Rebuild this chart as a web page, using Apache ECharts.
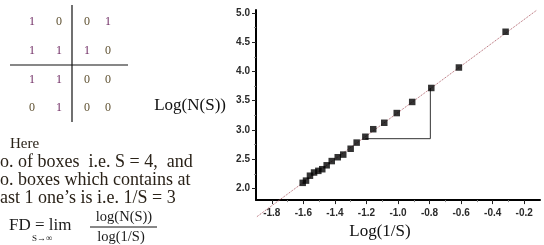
<!DOCTYPE html>
<html>
<head>
<meta charset="utf-8">
<script src="https://cdn.jsdelivr.net/npm/echarts@6/dist/echarts.min.js"></script>
<style>
html,body{margin:0;padding:0;background:#fff;}
#chart{width:544px;height:245px;}
</style>
</head>
<body>
<div id="chart"></div>
<script>
// ---- data ----
const logInvS = [-1.604,-1.583,-1.558,-1.532,-1.505,-1.480,-1.452,-1.420,-1.382,-1.347,-1.300,-1.262,-1.207,-1.157,-1.087,-1.008,-0.910,-0.789,-0.614,-0.318];
const logNS   = [2.095,2.133,2.217,2.272,2.300,2.328,2.395,2.467,2.533,2.578,2.678,2.783,2.883,3.012,3.122,3.288,3.478,3.717,4.067,4.678];
const fitX = [-1.894,-0.119];
const fitY = [1.517,5.05];
const triX = [-1.207,-0.795,-0.795];
const triY = [2.85,2.85,3.717];
const xTicks = [-1.8,-1.6,-1.4,-1.2,-1.0,-0.8,-0.6,-0.4,-0.2];
const xMinorTicks = [-1.7,-1.5,-1.3,-1.1,-0.9,-0.7,-0.5,-0.3];
const yTicks = [2.0,2.5,3.0,3.5,4.0,4.5,5.0];
const yMinorTicks = [2.25,2.75,3.25,3.75,4.25,4.75];
const matrixRows = [[1,0,0,1],[1,1,1,0],[1,1,0,0],[0,1,0,0]];
const noteLines = ['Here','o. of boxes  i.e. S = 4,  and','o. boxes which contains at','ast 1 one\u2019s is i.e. 1/S = 3'];
const formulaLeft = 'FD = lim';
const formulaSub = 'S\u2192\u221e';
const formulaNum = 'log(N(S))';
const formulaDen = 'log(1/S)';
const xName = 'Log(1/S)';
const yName = 'Log(N(S))';

// ---- layout helpers ----
const serif = '"Liberation Serif","DejaVu Serif",serif';
const graphics = [];
const colX = [32,59,87,108];
const rowY = [22,51,80,108];
matrixRows.forEach((row,ri)=>{
  row.forEach((v,ci)=>{
    graphics.push({type:'text',x:colX[ci],y:rowY[ri],style:{text:String(v),font:'12px '+serif,fill:v===1?'#6e2a62':'#5e5030',textAlign:'center',textVerticalAlign:'middle'}});
  });
});
graphics.push({type:'line',shape:{x1:72,y1:5,x2:72,y2:122},style:{stroke:'#111',lineWidth:1.2}});
graphics.push({type:'line',shape:{x1:10,y1:65,x2:128,y2:65},style:{stroke:'#111',lineWidth:1.2}});
const noteX = [10,0,0,0];
const noteY = [144,162,180,198];
noteLines.forEach((t,i)=>{
  graphics.push({type:'text',x:noteX[i],y:noteY[i],style:{text:t,font:(i===0?'15px ':'18px ')+serif,fill:'#2a2218',textAlign:'left',textVerticalAlign:'middle'}});
});
graphics.push({type:'text',x:9,y:226,style:{text:formulaLeft,font:'17px '+serif,fill:'#1a1a1a',textAlign:'left',textVerticalAlign:'middle'}});
graphics.push({type:'text',x:32,y:239,style:{text:formulaSub,font:'9px '+serif,fill:'#1a1a1a',textAlign:'left',textVerticalAlign:'middle'}});
graphics.push({type:'text',x:124,y:217,style:{text:formulaNum,font:'14.5px '+serif,fill:'#1a1a1a',textAlign:'center',textVerticalAlign:'middle'}});
graphics.push({type:'line',shape:{x1:90,y1:227,x2:157,y2:227},style:{stroke:'#111',lineWidth:1}});
graphics.push({type:'text',x:121,y:237,style:{text:formulaDen,font:'14.5px '+serif,fill:'#1a1a1a',textAlign:'center',textVerticalAlign:'middle'}});

const axisLabelStyle = {color:'#2a2a2a',fontFamily:'"Liberation Sans",Arial,sans-serif',fontWeight:'bold',fontSize:10};

const chart = echarts.init(document.getElementById('chart'),null,{renderer:'canvas'});
chart.setOption({
  animation:false,
  backgroundColor:'#fff',
  grid:{left:256,right:4,top:10,bottom:39,containLabel:false},
  xAxis:[{
    type:'value',min:-1.9,max:-0.1,
    name:xName,nameLocation:'middle',nameGap:21,
    nameTextStyle:{fontFamily:serif,fontSize:17,color:'#111',padding:[0,36,0,0]},
    axisLine:{show:true,onZero:false,lineStyle:{color:'#000',width:2}},
    axisTick:{show:true,inside:false,length:4,lineStyle:{color:'#222'},customValues:xTicks},
    axisLabel:Object.assign({margin:8,customValues:xTicks,formatter:v=>v.toFixed(1)},axisLabelStyle),
    splitLine:{show:false}
  },{
    type:'value',min:-1.9,max:-0.1,position:'bottom',
    axisLine:{show:false},
    axisTick:{show:true,length:2,lineStyle:{color:'#888'},customValues:xMinorTicks},
    axisLabel:{show:false},splitLine:{show:false}
  }],
  yAxis:[{
    type:'value',min:1.8,max:5.05,
    name:yName,nameLocation:'middle',nameRotate:0,nameGap:30,
    nameTextStyle:{fontFamily:serif,fontSize:17,color:'#111',align:'right',padding:[0,0,6,0]},
    axisLine:{show:true,onZero:false,lineStyle:{color:'#000',width:2}},
    axisTick:{show:true,inside:false,length:4,lineStyle:{color:'#222'},customValues:yTicks},
    axisLabel:Object.assign({margin:6,customValues:yTicks,formatter:v=>v.toFixed(1)},axisLabelStyle),
    splitLine:{show:false}
  },{
    type:'value',min:1.8,max:5.05,position:'left',
    axisLine:{show:false},
    axisTick:{show:true,length:2,lineStyle:{color:'#888'},customValues:yMinorTicks},
    axisLabel:{show:false},splitLine:{show:false}
  }],
  graphic:graphics,
  series:[{
    type:'line',clip:false,silent:true,showSymbol:false,symbol:'none',z:1,
    data:fitX.map((x,i)=>[x,fitY[i]]),
    lineStyle:{color:'#b0606a',width:1,type:'dotted'}
  },{
    type:'line',showSymbol:false,symbol:'none',silent:true,z:2,
    data:triX.map((x,i)=>[x,triY[i]]),
    lineStyle:{color:'#333',width:1}
  },{
    type:'scatter',symbol:'rect',symbolSize:6.5,z:3,
    data:logInvS.map((x,i)=>[x,logNS[i]]),
    itemStyle:{color:'#000'}
  }]
});
</script>
</body>
</html>
